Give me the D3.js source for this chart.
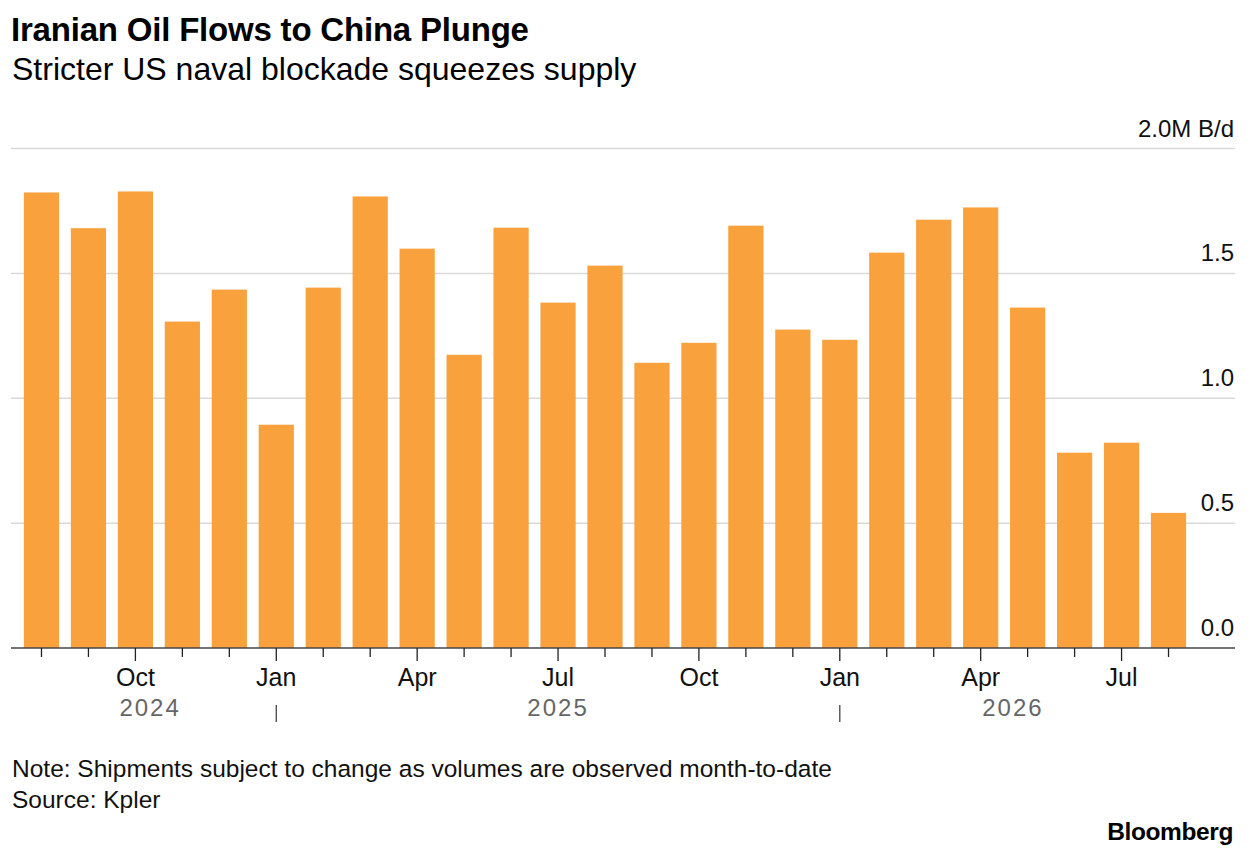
<!DOCTYPE html>
<html><head><meta charset="utf-8">
<script src="https://cdn.jsdelivr.net/npm/d3@7"></script>
<style>
body{margin:0;background:#fff;}
text{font-family:"Liberation Sans",Arial,Helvetica,sans-serif;}
</style></head>
<body><svg id="c" width="1256" height="858"></svg>
<script>
const months = ["Aug 2024","Sep 2024","Oct 2024","Nov 2024","Dec 2024","Jan 2025","Feb 2025","Mar 2025","Apr 2025","May 2025","Jun 2025","Jul 2025","Aug 2025","Sep 2025","Oct 2025","Nov 2025","Dec 2025","Jan 2026","Feb 2026","Mar 2026","Apr 2026","May 2026","Jun 2026","Jul 2026","Aug 2026"];
const values = [1.824,1.681,1.828,1.307,1.435,0.894,1.443,1.808,1.599,1.174,1.683,1.383,1.531,1.142,1.222,1.691,1.275,1.234,1.583,1.715,1.764,1.363,0.782,0.822,0.541];
const yTicks = [0,0.5,1.0,1.5,2.0];
const monthLabels = {"Oct 2024":"Oct","Jan 2025":"Jan","Apr 2025":"Apr","Jul 2025":"Jul","Oct 2025":"Oct","Jan 2026":"Jan","Apr 2026":"Apr","Jul 2026":"Jul"};
const years = ["2024","2025","2026"];

const svg = d3.select("#c");
const left = 11, right = 1235;
const x = d3.scaleBand().domain(months).range([18,1192]).paddingInner(0.25).paddingOuter(0.125);
const y = d3.scaleLinear().domain([0,2]).range([648,148.5]);

// title
svg.append("text").attr("x",11).attr("y",41).attr("font-size",33).attr("font-weight","bold").attr("fill","#000").attr("letter-spacing","-0.2").text("Iranian Oil Flows to China Plunge");
svg.append("text").attr("x",12).attr("y",80).attr("font-size",32).attr("fill","#000").text("Stricter US naval blockade squeezes supply");

// gridlines
svg.append("g").selectAll("line").data(yTicks.filter(d=>d>0)).join("line")
  .attr("x1",left).attr("x2",right).attr("y1",d=>y(d)).attr("y2",d=>y(d))
  .attr("stroke","#d9d9d9").attr("stroke-width",1.5);

// y labels
svg.append("g").selectAll("text").data(yTicks).join("text")
  .attr("x",1234).attr("y",d=>y(d)-12).attr("text-anchor","end")
  .attr("font-size",24).attr("fill","#111")
  .text(d=> d===2 ? "2.0M B/d" : d3.format(".1f")(d));

// bars
svg.append("g").selectAll("rect").data(values).join("rect")
  .attr("x",(d,i)=>x(months[i])).attr("width",x.bandwidth())
  .attr("y",d=>y(d)).attr("height",d=>y(0)-y(d))
  .attr("fill","#f9a13d");

// baseline
svg.append("line").attr("x1",left).attr("x2",right).attr("y1",y(0)).attr("y2",y(0)).attr("stroke","#444").attr("stroke-width",1.5);

// ticks
const tickG = svg.append("g");
months.forEach(m=>{
  const cx = x(m)+x.bandwidth()/2;
  const major = monthLabels[m]!==undefined;
  tickG.append("line").attr("x1",cx).attr("x2",cx).attr("y1",y(0)).attr("y2",y(0)+(major?13:9)).attr("stroke","#222").attr("stroke-width",1.3);
  if(major){
    tickG.append("text").attr("x",cx).attr("y",686).attr("text-anchor","middle").attr("font-size",25).attr("fill","#111").text(monthLabels[m]);
  }
});

// year separators and labels
const sepJan25 = x("Jan 2025")+x.bandwidth()/2;
const sepJan26 = x("Jan 2026")+x.bandwidth()/2;
[sepJan25, sepJan26].forEach(s=>{
  svg.append("line").attr("x1",s).attr("x2",s).attr("y1",705).attr("y2",722).attr("stroke","#444").attr("stroke-width",1.3);
});
const yStart = x(months[0]);
const yEnd = x(months[months.length-1])+x.bandwidth();
const yearCenters = [(yStart+sepJan25)/2,(sepJan25+sepJan26)/2,(sepJan26+yEnd)/2];
svg.append("g").selectAll("text").data(years).join("text")
  .attr("x",(d,i)=>yearCenters[i]).attr("y",716).attr("text-anchor","middle")
  .attr("font-size",24).attr("fill","#666").attr("letter-spacing","2").text(d=>d);

// footer
svg.append("text").attr("x",12).attr("y",777).attr("font-size",24.5).attr("fill","#111").text("Note: Shipments subject to change as volumes are observed month-to-date");
svg.append("text").attr("x",12).attr("y",808).attr("font-size",24.5).attr("fill","#111").text("Source: Kpler");
svg.append("text").attr("x",1233).attr("y",840).attr("text-anchor","end").attr("font-size",24.5).attr("font-weight","bold").attr("fill","#000").attr("letter-spacing","-0.4").text("Bloomberg");
</script></body></html>
